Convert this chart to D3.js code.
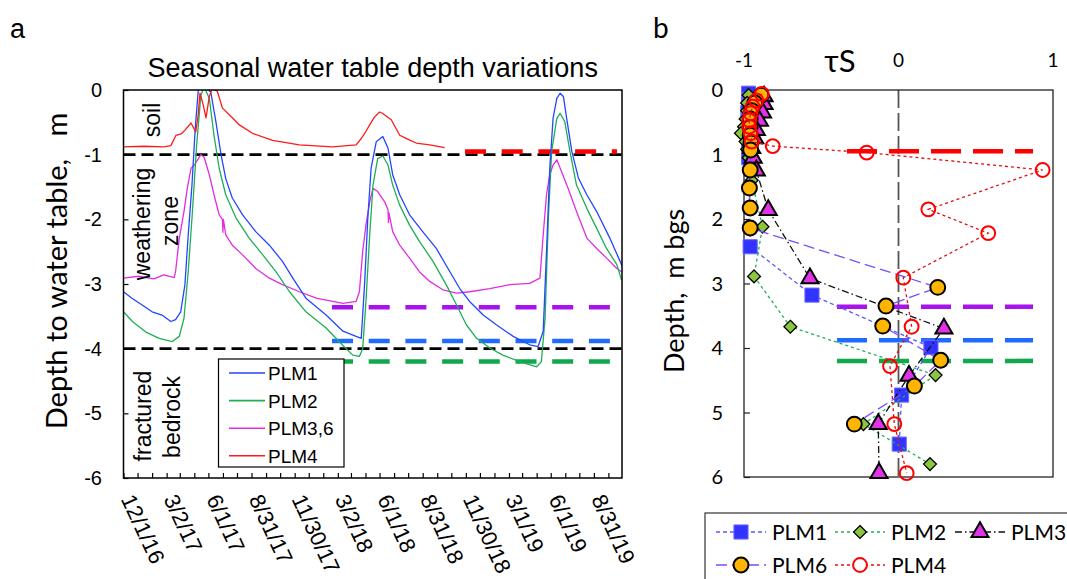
<!DOCTYPE html>
<html><head><meta charset="utf-8">
<script src="https://cdn.jsdelivr.net/npm/d3@7"></script>
<style>body{margin:0;background:#fff}svg{display:block}text{white-space:pre}</style>
</head><body><svg id="c" width="1067" height="579"></svg>
<script>
// ---------- Panel a data: depth to water table (m) ----------
const wtPLM1 = [["2016-11-01",-3.12],["2016-11-19",-3.22],["2016-12-10",-3.32],["2017-01-01",-3.43],["2017-01-22",-3.48],["2017-02-10",-3.58],["2017-02-20",-3.55],["2017-03-03",-3.43],["2017-03-12",-3.01],["2017-03-19",-2.24],["2017-03-27",-1.47],["2017-04-03",-0.59],["2017-04-10",0.05],["2017-04-22",0.05],["2017-05-06",-0.03],["2017-05-17",-0.49],["2017-05-28",-1.0],["2017-06-07",-1.37],["2017-06-21",-1.67],["2017-07-13",-1.93],["2017-08-10",-2.19],["2017-09-08",-2.40],["2017-10-06",-2.65],["2017-10-28",-2.91],["2017-11-25",-3.22],["2018-01-07",-3.48],["2018-02-12",-3.73],["2018-03-12",-3.81],["2018-03-23",-3.84],["2018-03-30",-3.01],["2018-04-06",-1.98],["2018-04-13",-1.21],["2018-04-24",-0.80],["2018-05-08",-0.72],["2018-05-19",-0.90],["2018-05-29",-1.31],["2018-06-13",-1.62],["2018-07-04",-1.93],["2018-08-01",-2.19],["2018-08-30",-2.45],["2018-09-28",-2.81],["2018-10-19",-3.07],["2018-11-09",-3.27],["2018-12-08",-3.48],["2019-01-05",-3.63],["2019-02-10",-3.81],["2019-03-17",-3.94],["2019-04-04",-3.97],["2019-04-15",-3.73],["2019-04-22",-2.50],["2019-04-29",-1.21],["2019-05-06",-0.44],["2019-05-14",-0.13],["2019-05-21",-0.05],["2019-05-28",-0.10],["2019-06-04",-0.44],["2019-06-15",-0.95],["2019-06-29",-1.36],["2019-07-17",-1.62],["2019-08-07",-1.88],["2019-09-04",-2.29],["2019-09-26",-2.65],["2019-09-30",-2.72]];
const wtPLM2 = [["2016-11-01",-3.43],["2016-11-20",-3.58],["2016-12-18",-3.74],["2017-01-16",-3.84],["2017-02-13",-3.89],["2017-02-28",-3.81],["2017-03-10",-3.53],["2017-03-19",-2.81],["2017-03-28",-1.88],["2017-04-06",-0.85],["2017-04-15",-0.08],["2017-04-22",0.05],["2017-05-03",-0.13],["2017-05-13",-0.70],["2017-05-24",-1.21],["2017-06-07",-1.62],["2017-06-29",-1.98],["2017-07-27",-2.29],["2017-08-25",-2.55],["2017-09-22",-2.81],["2017-10-21",-3.12],["2017-11-25",-3.43],["2018-01-07",-3.68],["2018-02-12",-3.95],["2018-03-05",-4.10],["2018-03-19",-4.12],["2018-03-26",-4.0],["2018-04-02",-3.27],["2018-04-10",-2.24],["2018-04-17",-1.47],["2018-04-27",-1.06],["2018-05-08",-1.02],["2018-05-19",-1.16],["2018-05-29",-1.47],["2018-06-13",-1.78],["2018-07-04",-2.09],["2018-07-25",-2.34],["2018-08-23",-2.65],["2018-09-20",-3.01],["2018-10-12",-3.32],["2018-11-02",-3.63],["2018-11-24",-3.84],["2018-12-22",-3.99],["2019-01-19",-4.10],["2019-02-24",-4.20],["2019-04-01",-4.28],["2019-04-11",-4.20],["2019-04-19",-3.53],["2019-04-26",-1.98],["2019-05-03",-0.95],["2019-05-14",-0.44],["2019-05-21",-0.36],["2019-05-31",-0.49],["2019-06-11",-0.95],["2019-06-25",-1.47],["2019-07-17",-1.83],["2019-08-07",-2.14],["2019-08-28",-2.45],["2019-09-19",-2.70],["2019-09-29",-2.94]];
const wtPLM36 = [["2016-11-01",-2.91],["2016-12-04",-2.88],["2017-01-05",-2.92],["2017-01-26",-2.86],["2017-02-17",-2.90],["2017-02-20",-2.81],["2017-02-28",-2.29],["2017-03-10",-1.88],["2017-03-17",-1.52],["2017-03-25",-1.21],["2017-04-01",-1.16],["2017-04-08",-1.08],["2017-04-15",-1.0],["2017-04-22",-1.04],["2017-05-03",-1.31],["2017-05-13",-1.62],["2017-05-24",-1.93],["2017-05-31",-2.0],["2017-06-01",-2.2],["2017-06-02",-2.0],["2017-06-07",-2.24],["2017-06-21",-2.40],["2017-07-13",-2.55],["2017-08-10",-2.76],["2017-09-08",-2.91],["2017-10-06",-3.01],["2017-11-11",-3.12],["2017-12-17",-3.22],["2018-01-21",-3.27],["2018-02-12",-3.30],["2018-03-12",-3.27],["2018-03-19",-3.12],["2018-03-26",-2.50],["2018-04-02",-2.09],["2018-04-10",-1.73],["2018-04-17",-1.52],["2018-04-27",-1.57],["2018-05-12",-1.73],["2018-05-19",-1.85],["2018-05-20",-2.05],["2018-05-21",-1.9],["2018-05-29",-2.19],["2018-06-13",-2.40],["2018-07-04",-2.60],["2018-07-25",-2.81],["2018-08-16",-2.96],["2018-09-13",-3.09],["2018-10-12",-3.14],["2018-11-09",-3.12],["2018-12-22",-3.07],["2019-02-03",-3.01],["2019-03-17",-2.99],["2019-04-08",-2.91],["2019-04-15",-2.24],["2019-04-22",-1.62],["2019-04-29",-1.31],["2019-05-06",-1.16],["2019-05-14",-1.08],["2019-05-24",-1.26],["2019-06-07",-1.52],["2019-06-25",-1.88],["2019-07-17",-2.29],["2019-08-07",-2.45],["2019-08-28",-2.60],["2019-09-19",-2.76],["2019-09-29",-2.81]];
const wtPLM4 = [["2016-11-01",-0.88],["2016-12-15",-0.87],["2017-01-26",-0.88],["2017-02-10",-0.86],["2017-02-21",-0.70],["2017-03-04",-0.68],["2017-03-12",-0.62],["2017-03-25",-0.51],["2017-04-04",-0.65],["2017-04-09",-0.40],["2017-04-13",-0.05],["2017-04-19",-0.2],["2017-04-26",-0.43],["2017-05-03",-0.1],["2017-05-09",0.02],["2017-05-20",-0.02],["2017-05-31",-0.28],["2017-06-21",-0.43],["2017-07-06",-0.54],["2017-08-03",-0.67],["2017-09-15",-0.78],["2017-11-11",-0.85],["2018-01-21",-0.88],["2018-03-12",-0.85],["2018-03-23",-0.75],["2018-04-01",-0.65],["2018-04-10",-0.54],["2018-04-20",-0.42],["2018-05-01",-0.34],["2018-05-07",-0.36],["2018-05-26",-0.46],["2018-06-13",-0.70],["2018-06-30",-0.76],["2018-07-18",-0.82],["2018-08-16",-0.85],["2018-09-17",-0.89]];

const zoneBoundaries = [-1, -4];                  // soil / weathering / bedrock
const levelDepths = [0.95, 3.36, 3.88, 4.2];      // PLM4, PLM3/6, PLM1, PLM2 reference levels (m)
const dateTickLabels = ["12/1/16","3/2/17","6/1/17","8/31/17","11/30/17","3/2/18","6/1/18","8/31/18","11/30/18","3/1/19","6/1/19","8/31/19"];
const depthTicksA = [0,-1,-2,-3,-4,-5,-6];
const seriesNamesA = ["PLM1","PLM2","PLM3,6","PLM4"];

// ---------- Panel b data: tau S vs depth ----------
const tsPLM1 = [[0.05,-0.97],[0.15,-0.965],[0.25,-0.97],[0.35,-0.975],[0.45,-0.97],[0.55,-0.965],[0.65,-0.97],[0.75,-0.97],[0.85,-0.965],[0.95,-0.97],[1.05,-0.97],[2.43,-0.96],[3.18,-0.56],[3.99,0.21],[4.73,0.02],[5.49,0.005]];
const tsPLM2 = [[0.08,-0.97],[0.2,-0.98],[0.32,-0.98],[0.45,-0.99],[0.57,-1.0],[0.67,-1.02],[0.8,-0.99],[0.92,-0.98],[1.05,-0.97],[1.2,-0.96],[1.4,-0.95],[2.12,-0.88],[2.89,-0.935],[3.67,-0.70],[4.42,0.24],[5.18,-0.227],[5.8,0.204]];
const tsPLM3 = [[0.1,-0.87],[0.22,-0.87],[0.35,-0.88],[0.48,-0.9],[0.62,-0.92],[0.75,-0.93],[0.9,-0.95],[1.05,-0.94],[1.25,-0.92],[1.86,-0.843],[2.92,-0.573],[3.70,0.294],[4.43,0.068],[5.18,-0.131],[5.94,-0.126]];
const tsPLM6 = [[0.08,-0.89],[0.2,-0.93],[0.32,-0.95],[0.45,-0.96],[0.58,-0.96],[0.7,-0.96],[0.82,-0.955],[0.93,-0.957],[1.24,-0.96],[1.52,-0.965],[1.83,-0.96],[2.14,-0.96],[3.06,0.254],[3.35,-0.081],[3.66,-0.102],[4.19,0.273],[4.59,0.103],[5.18,-0.286]];
const tsPLM4 = [[0.06,-0.885],[0.16,-0.92],[0.26,-0.945],[0.36,-0.957],[0.47,-0.966],[0.57,-0.966],[0.67,-0.957],[0.8,-0.95],[0.87,-0.814],[0.97,-0.206],[1.24,0.933],[1.85,0.193],[2.22,0.581],[2.91,0.031],[3.67,0.085],[4.28,-0.055],[5.18,-0.027],[5.94,0.053]];
const tsTicks = [-1,0,1];
const depthTicksB = [0,1,2,3,4,5,6];

// ---------- styles ----------
const FA = "'Liberation Sans', Arial, sans-serif";
const FB = "Lato, 'Open Sans', sans-serif";
const colA = {"PLM1":"#2346ff","PLM2":"#1fae55","PLM3,6":"#e02ee0","PLM4":"#ff1a1a"};
const levelColors = ["#ff0000","#a812ee","#1f6bff","#0fa84a"];

const svg = d3.select("#c");
const parse = d3.timeParse("%Y-%m-%d");
const parseTick = d3.timeParse("%m/%d/%y");

// ================= Panel a =================
const xA = d3.scaleTime().domain([new Date(2016,10,1), new Date(2019,8,30)]).range([123.5, 622]);
const yA = d3.scaleLinear().domain([-6,0]).range([478, 90]);

svg.append("defs").append("clipPath").attr("id","clipA")
  .append("rect").attr("x",123.5).attr("y",90).attr("width",622-123.5).attr("height",388);

svg.append("text").attr("x",10).attr("y",38).attr("font-family",FA).attr("font-size",27).text("a");
svg.append("text").attr("x",(123.5+622)/2).attr("y",77).attr("text-anchor","middle")
  .attr("font-family",FA).attr("font-size",27).text("Seasonal water table depth variations");

// zone boundaries
svg.append("g").selectAll("line").data(zoneBoundaries).join("line")
  .attr("x1",123.5).attr("x2",622).attr("y1",d=>yA(d)).attr("y2",d=>yA(d))
  .attr("stroke","#000").attr("stroke-width",2.6).attr("stroke-dasharray","12,6");

// reference levels
svg.append("g").selectAll("line").data(levelDepths).join("line")
  .attr("x1",d=>d<1?465:332).attr("x2",617).attr("y1",d=>yA(-d)).attr("y2",d=>yA(-d))
  .attr("stroke",(d,i)=>levelColors[i]).attr("stroke-width",4.5).attr("stroke-dasharray","21,15.7");

// series
const lineA = d3.line().x(d=>xA(parse(d[0]))).y(d=>yA(d[1]));
const gA = svg.append("g").attr("clip-path","url(#clipA)");
[[wtPLM36,"PLM3,6"],[wtPLM2,"PLM2"],[wtPLM1,"PLM1"],[wtPLM4,"PLM4"]].forEach(([data,name])=>{
  gA.append("path").attr("d",lineA(data)).attr("fill","none").attr("stroke",colA[name]).attr("stroke-width",1.3).attr("stroke-linejoin","round");
});

// frame
svg.append("rect").attr("x",123.5).attr("y",90).attr("width",622-123.5).attr("height",388)
  .attr("fill","none").attr("stroke","#000").attr("stroke-width",1.5);

// y axis a
const yAxA = svg.append("g").attr("transform","translate(123.5,0)")
  .call(d3.axisRight(yA).tickValues(depthTicksA).tickSize(5).tickFormat(""));
yAxA.select(".domain").remove();
yAxA.selectAll("line").attr("stroke","#000").attr("stroke-width",1.2);
svg.append("g").selectAll("text").data(depthTicksA).join("text")
  .attr("x",102).attr("y",d=>yA(d)+7).attr("text-anchor","end")
  .attr("font-family",FA).attr("font-size",20).text(d=>d);

// x axis a (monthly minor ticks inside)
const xAxA = svg.append("g").attr("transform","translate(0,478)")
  .call(d3.axisTop(xA).ticks(d3.timeMonth.every(1)).tickSize(5).tickFormat(""));
xAxA.select(".domain").remove();
xAxA.selectAll("line").attr("stroke","#000").attr("stroke-width",1.2);
svg.append("g").selectAll("text").data(dateTickLabels).join("text")
  .attr("transform",d=>`translate(${xA(parseTick(d))-17},${499}) rotate(65)`)
  .attr("font-family",FA).attr("font-size",22).text(d=>d);

// y label a
svg.append("text").attr("transform","translate(67,271) rotate(-90)").attr("text-anchor","middle")
  .attr("font-family",FB).attr("font-size",29).text("Depth to water table,   m");

// zone annotations
const ann = [["soil",160,120],["weathering",150,224],["zone",178,221],["fractured",151,416],["bedrock",180,417]];
svg.append("g").selectAll("text").data(ann).join("text")
  .attr("transform",d=>`translate(${d[1]},${d[2]}) rotate(-90)`).attr("text-anchor","middle")
  .attr("font-family",FA).attr("font-size",23).text(d=>d[0]);

// legend a
const legA = svg.append("g");
legA.append("rect").attr("x",218.5).attr("y",359).attr("width",125.5).attr("height",108)
  .attr("fill","#fff").attr("stroke","#000").attr("stroke-width",1.2);
seriesNamesA.forEach((n,i)=>{
  const y = 373 + i*27.6;
  legA.append("line").attr("x1",229).attr("x2",265).attr("y1",y).attr("y2",y).attr("stroke",colA[n]).attr("stroke-width",1.6);
  legA.append("text").attr("x",268).attr("y",y+7).attr("font-family",FA).attr("font-size",19).text(n);
});

// ================= Panel b =================
const xB = d3.scaleLinear().domain([-1,1]).range([744,1053]);
const yB = d3.scaleLinear().domain([0,6]).range([90,477]);

svg.append("text").attr("x",653).attr("y",38).attr("font-family",FB).attr("font-size",28).text("b");
svg.append("text").attr("x",840).attr("y",72).attr("text-anchor","middle").attr("font-family",FB).attr("font-size",31).text("τS");
svg.append("g").selectAll("text").data(tsTicks).join("text")
  .attr("x",d=>xB(d)).attr("y",67).attr("text-anchor","middle").attr("font-family",FB).attr("font-size",19).text(d=>d);
svg.append("g").selectAll("text").data(depthTicksB).join("text")
  .attr("x",723).attr("y",d=>yB(d)+7).attr("text-anchor","end").attr("font-family",FB).attr("font-size",20).text(d=>d);
svg.append("text").attr("transform","translate(684,291) rotate(-90)").attr("text-anchor","middle")
  .attr("font-family",FB).attr("font-size",27).text("Depth,  m bgs");

// zero line
svg.append("line").attr("x1",xB(0)).attr("x2",xB(0)).attr("y1",yB(0)).attr("y2",yB(6)+4)
  .attr("stroke","#555").attr("stroke-width",1.8).attr("stroke-dasharray","18,5");

// reference levels b
svg.append("g").selectAll("line").data(levelDepths).join("line")
  .attr("x1",d=>d<1?847:837).attr("x2",1033).attr("y1",d=>yB(d)).attr("y2",d=>yB(d))
  .attr("stroke",(d,i)=>levelColors[i]).attr("stroke-width",4.5).attr("stroke-dasharray","30,12");

// frame b
svg.append("rect").attr("x",744).attr("y",90).attr("width",309).attr("height",387)
  .attr("fill","none").attr("stroke","#222").attr("stroke-width",1.3);
const yAxB = svg.append("g").attr("transform","translate(744,0)")
  .call(d3.axisRight(yB).tickValues(depthTicksB).tickSize(6).tickFormat(""));
yAxB.select(".domain").remove();
yAxB.selectAll("line").attr("stroke","#222").attr("stroke-width",1.2);

const seriesB = [
  {name:"PLM1", data:tsPLM1, line:"#5a5aff", dash:"4,3", sym:d3.symbolSquare, size:200, fill:"#3333ff", stroke:"#6a6aff", sw:1},
  {name:"PLM2", data:tsPLM2, line:"#1fae55", dash:"3,3", sym:d3.symbolDiamond2, size:105, fill:"#8cc63f", stroke:"#000", sw:1.3},
  {name:"PLM3", data:tsPLM3, line:"#111", dash:"7,3,1.5,3", sym:d3.symbolTriangle, size:125, fill:"#e033e8", stroke:"#000", sw:2},
  {name:"PLM6", data:tsPLM6, line:"#7a4dff", dash:"11,5", sym:d3.symbolCircle, size:175, fill:"#ffb400", stroke:"#000", sw:2},
  {name:"PLM4", data:tsPLM4, line:"#e01010", dash:"3,3", sym:d3.symbolCircle, size:150, fill:"none", stroke:"#ff0000", sw:2}
];
const lineB = d3.line().x(d=>xB(d[1])).y(d=>yB(d[0]));
seriesB.forEach(s=>{
  const g = svg.append("g");
  g.append("path").attr("d",lineB(s.data)).attr("fill","none").attr("stroke",s.line).attr("stroke-width",1.3).attr("stroke-dasharray",s.dash);
  g.selectAll("path.m").data(s.data).join("path").attr("class","m")
    .attr("transform",d=>`translate(${xB(d[1])},${yB(d[0])})`)
    .attr("d",d3.symbol(s.sym,s.size)).attr("fill",s.fill).attr("stroke",s.stroke).attr("stroke-width",s.sw);
});

// legend b
const legB = svg.append("g");
legB.append("rect").attr("x",705).attr("y",513).attr("width",380).attr("height",90)
  .attr("fill","#fff").attr("stroke","#333").attr("stroke-width",1.2);
const legPos = [[716,532],[835,532],[955,532],[716,565],[835,565]];
seriesB.forEach((s,i)=>{
  const [x,y] = legPos[i];
  legB.append("line").attr("x1",x).attr("x2",x+50).attr("y1",y).attr("y2",y).attr("stroke",s.line).attr("stroke-width",1.3).attr("stroke-dasharray",s.dash);
  legB.append("path").attr("transform",`translate(${x+25},${y})`).attr("d",d3.symbol(s.sym,s.size))
    .attr("fill",s.fill==="none"?"#fff":s.fill).attr("stroke",s.stroke).attr("stroke-width",s.sw);
  legB.append("text").attr("x",x+56).attr("y",y+8).attr("font-family",FB).attr("font-size",21).text(s.name);
});
</script></body></html>
